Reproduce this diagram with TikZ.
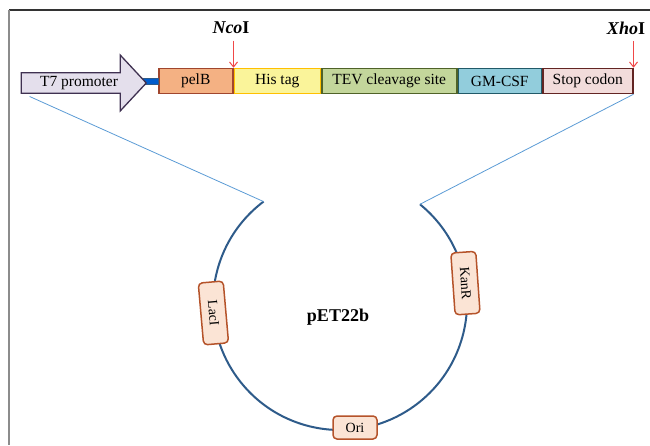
\documentclass[tikz,border=0pt]{standalone}
\usepackage{fontspec}
\setmainfont{Liberation Serif}
\usepackage{xcolor}
\usetikzlibrary{arrows.meta,positioning,shapes.arrows,calc}

\definecolor{plasmid}{HTML}{2E5B8A}
\definecolor{guide}{HTML}{5B9BD5}
\definecolor{cutred}{HTML}{F04848}
\definecolor{featfill}{HTML}{FBE4D5}
\definecolor{featdraw}{HTML}{B5532A}
\definecolor{pelfill}{HTML}{F4B183}
\definecolor{peldraw}{HTML}{A0462D}
\definecolor{hisfill}{HTML}{FAF49A}
\definecolor{hisdraw}{HTML}{FFC000}
\definecolor{tevfill}{HTML}{C3D69B}
\definecolor{tevdraw}{HTML}{4F6228}
\definecolor{gmfill}{HTML}{92CDDC}
\definecolor{gmdraw}{HTML}{215968}
\definecolor{stopfill}{HTML}{F2DCDB}
\definecolor{stopdraw}{HTML}{632523}
\definecolor{t7fill}{HTML}{E4DFEC}
\definecolor{t7draw}{HTML}{3F3151}

\begin{document}
\begin{tikzpicture}[
        x=1pt,y=1pt,
        font=\fontsize{15.5}{18}\selectfont,
        >=Stealth,
        gene/.style={rectangle,draw,line width=1.5pt,minimum height=25pt,inner sep=1pt,anchor=west},
        feat/.style={rectangle,rounded corners=4pt,draw=featdraw,fill=featfill,line width=1.5pt,minimum width=62pt,minimum height=25pt,inner sep=1pt,font=\fontsize{14}{16}\selectfont},
        site/.style={font=\fontsize{18}{20}\selectfont\bfseries},
        cut/.style={-{Straight Barb[length=5pt,width=8pt]},cutred,line width=1pt,shorten <=3pt},
        guideline/.style={guide,line width=0.8pt}
    ]
        \useasboundingbox (0,0) rectangle (650,445);
        \draw[black!80,line width=1.2pt] (9,435) -- (650,435);
        \draw[black!45,line width=2pt] (9,435) -- (9,0);

        % expression cassette
        \node[gene,draw=peldraw,fill=pelfill,minimum width=74pt] (pelB) at (158,364) {pelB};
        \node[rectangle,draw=plasmid,fill=blue!55!cyan!80!black,minimum width=16pt,minimum height=6pt,inner sep=0pt,anchor=east] (linker) at (pelB.west) {};
        \node[single arrow,draw=t7draw,fill=t7fill,line width=1.3pt,minimum height=125pt,minimum width=56pt,
              single arrow head extend=14.5pt,single arrow tip angle=94,inner sep=1pt] (T7) at (79,362) {T7 promoter};
        \node[gene,draw=hisdraw,fill=hisfill,minimum width=86pt,right=0pt of pelB] (his) {His tag};
        \node[gene,draw=tevdraw,fill=tevfill,minimum width=135pt,right=0pt of his] (tev) {TEV cleavage site};
        \node[gene,draw=gmdraw,fill=gmfill,minimum width=83pt,right=0pt of tev] (gmcsf) {GM-CSF};
        \node[gene,draw=stopdraw,fill=stopfill,minimum width=90pt,right=0pt of gmcsf] (stop) {Stop codon};

        % restriction sites
        \node[site] (nco) at (231,417) {\textit{Nco}I};
        \node[site] (xho) at (626,417) {\textit{Xho}I};
        \draw[cut] (nco.south -| pelB.north east) -- (pelB.north east);
        \draw[cut] (xho.south -| stop.north east) -- (stop.north east);

        % plasmid
        \coordinate (ctr) at (340,142);
        \coordinate (gapL) at ([shift={(127:127)}]ctr);
        \coordinate (gapR) at ([shift={(51:127)}]ctr);
        \draw[plasmid,line width=2pt] (gapL) arc[start angle=127,end angle=411,radius=127];
        \draw[guideline] ([shift={(9,-13.5)}]T7.tail) -- (gapL);
        \draw[guideline] (stop.south east) -- (gapR);

        \node[feat,rotate=-85] (lacI) at ([shift={(184.5:127)}]ctr) {LacI};
        \node[feat,rotate=-86] (kanR) at ([shift={(9:127)}]ctr) {KanR};
        \node[feat,minimum width=44pt,minimum height=23pt] (ori) at (355,17.5) {Ori};
        \node[site] (pet) at (338,128) {pET22b};
    \end{tikzpicture}
\end{document}
